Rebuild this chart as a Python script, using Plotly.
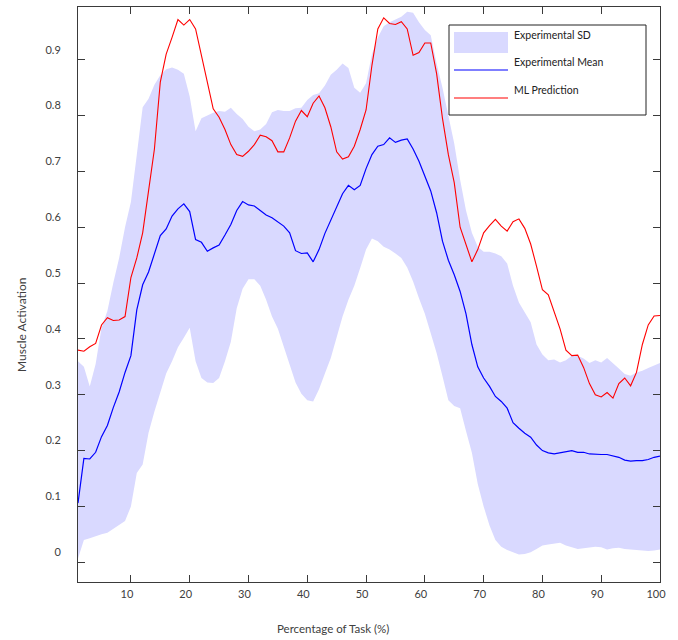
import plotly.graph_objects as go

# ---------------- data ----------------
pct = list(range(1, 101))

ml_prediction = [
    0.380, 0.378, 0.386, 0.392, 0.425, 0.438, 0.433, 0.434, 0.440, 0.510,
    0.545, 0.590, 0.665, 0.740, 0.860, 0.910, 0.940, 0.972, 0.962, 0.972,
    0.955, 0.905, 0.860, 0.812, 0.797, 0.775, 0.748, 0.730, 0.727, 0.736,
    0.748, 0.765, 0.762, 0.755, 0.735, 0.735, 0.760, 0.790, 0.809, 0.798,
    0.822, 0.835, 0.814, 0.780, 0.735, 0.722, 0.726, 0.745, 0.775, 0.810,
    0.890, 0.955, 0.975, 0.965, 0.963, 0.968, 0.955, 0.908, 0.913, 0.930,
    0.930, 0.875, 0.795, 0.730, 0.680, 0.600, 0.570, 0.538, 0.560, 0.590,
    0.603, 0.614, 0.602, 0.593, 0.610, 0.615, 0.598, 0.570, 0.530, 0.488,
    0.479, 0.450, 0.418, 0.380, 0.370, 0.371, 0.349, 0.320, 0.300, 0.296,
    0.304, 0.294, 0.320, 0.330, 0.316, 0.340, 0.390, 0.425, 0.441, 0.442,
]

exp_mean = [
    0.106, 0.186, 0.185, 0.197, 0.225, 0.245, 0.277, 0.305, 0.340, 0.370,
    0.452, 0.497, 0.520, 0.553, 0.585, 0.597, 0.620, 0.633, 0.642, 0.628,
    0.578, 0.573, 0.557, 0.563, 0.568, 0.586, 0.605, 0.630, 0.646, 0.640,
    0.638, 0.630, 0.622, 0.617, 0.609, 0.602, 0.590, 0.558, 0.553, 0.554,
    0.538, 0.560, 0.589, 0.612, 0.635, 0.660, 0.675, 0.667, 0.675, 0.705,
    0.730, 0.745, 0.748, 0.760, 0.752, 0.756, 0.758, 0.740, 0.718, 0.690,
    0.665, 0.626, 0.575, 0.541, 0.515, 0.485, 0.445, 0.390, 0.350, 0.330,
    0.315, 0.297, 0.288, 0.276, 0.250, 0.240, 0.231, 0.224, 0.210, 0.200,
    0.196, 0.194, 0.196, 0.198, 0.200, 0.197, 0.197, 0.194, 0.193, 0.193,
    0.193, 0.191, 0.188, 0.183, 0.181, 0.182, 0.182, 0.184, 0.188, 0.190,
]

sd_upper = [
    0.360, 0.350, 0.315, 0.355, 0.420, 0.450, 0.500, 0.545, 0.600, 0.645,
    0.730, 0.815, 0.830, 0.855, 0.872, 0.883, 0.886, 0.882, 0.875, 0.834,
    0.772, 0.795, 0.800, 0.805, 0.808, 0.807, 0.814, 0.803, 0.794, 0.780,
    0.772, 0.775, 0.785, 0.806, 0.810, 0.808, 0.808, 0.813, 0.814, 0.828,
    0.837, 0.840, 0.854, 0.873, 0.882, 0.893, 0.885, 0.850, 0.841, 0.858,
    0.910, 0.940, 0.960, 0.967, 0.972, 0.977, 0.986, 0.984, 0.967, 0.953,
    0.944, 0.893, 0.850, 0.800, 0.750, 0.685, 0.630, 0.590, 0.565, 0.556,
    0.556, 0.553, 0.548, 0.535, 0.495, 0.465, 0.447, 0.430, 0.390, 0.372,
    0.362, 0.363, 0.358, 0.362, 0.370, 0.370, 0.365, 0.357, 0.362, 0.358,
    0.366, 0.357, 0.347, 0.337, 0.334, 0.340, 0.343, 0.348, 0.352, 0.357,
]

sd_lower = [
    0.007, 0.040, 0.043, 0.047, 0.050, 0.053, 0.060, 0.066, 0.074, 0.100,
    0.160, 0.175, 0.232, 0.270, 0.305, 0.338, 0.360, 0.385, 0.402, 0.420,
    0.360, 0.330, 0.322, 0.321, 0.330, 0.360, 0.395, 0.455, 0.490, 0.507,
    0.507, 0.495, 0.470, 0.440, 0.418, 0.385, 0.352, 0.322, 0.302, 0.290,
    0.288, 0.310, 0.338, 0.366, 0.403, 0.440, 0.470, 0.495, 0.527, 0.560,
    0.580, 0.575, 0.565, 0.560, 0.553, 0.545, 0.528, 0.503, 0.473, 0.445,
    0.410, 0.375, 0.333, 0.290, 0.280, 0.276, 0.235, 0.196, 0.140, 0.100,
    0.066, 0.040, 0.028, 0.022, 0.018, 0.014, 0.015, 0.018, 0.024, 0.030,
    0.032, 0.034, 0.035, 0.030, 0.027, 0.024, 0.025, 0.026, 0.028, 0.027,
    0.023, 0.025, 0.026, 0.024, 0.023, 0.021, 0.021, 0.020, 0.021, 0.023,
]

x_ticks = [10, 20, 30, 40, 50, 60, 70, 80, 90, 100]
y_ticks = [0, 0.1, 0.2, 0.3, 0.4, 0.5, 0.6, 0.7, 0.8, 0.9]
legend_labels = ["Experimental SD", "Experimental Mean", "ML Prediction"]

# ---------------- styling ----------------
W, H = 678, 640
ML, MR, MT, MB = 78, 18, 7, 58
PW, PH = W - ML - MR, H - MT - MB
SD_FILL = "rgb(217,217,255)"
BLUE = "rgb(0,0,255)"
RED = "rgb(255,0,0)"
AXC = "#3a3a3a"
TXT = "#404040"
FONT = "Lato"


def px(xp):
    return (xp - ML) / PW


def py(yp):
    return (H - MB - yp) / PH


fig = go.Figure()
fig.add_trace(go.Scatter(x=pct, y=sd_lower, mode="lines", line=dict(width=0, color=SD_FILL),
                         showlegend=False, hoverinfo="skip", name="SD lower"))
fig.add_trace(go.Scatter(x=pct, y=sd_upper, mode="lines", line=dict(width=0, color=SD_FILL),
                         fill="tonexty", fillcolor=SD_FILL, showlegend=False,
                         name=legend_labels[0]))
fig.add_trace(go.Scatter(x=pct, y=exp_mean, mode="lines", line=dict(width=1.2, color=BLUE),
                         showlegend=False, name=legend_labels[1]))
fig.add_trace(go.Scatter(x=pct, y=ml_prediction, mode="lines", line=dict(width=1.1, color=RED),
                         showlegend=False, name=legend_labels[2]))

axis_common = dict(
    showline=True, linecolor=AXC, linewidth=1, mirror="ticks",
    ticks="inside", ticklen=7, tickwidth=1, tickcolor=AXC,
    showgrid=False, zeroline=False,
    tickfont=dict(family=FONT, size=11, color=TXT),
)

fig.update_layout(
    width=W, height=H,
    margin=dict(l=ML, r=MR, t=MT, b=MB, pad=0),
    paper_bgcolor="white", plot_bgcolor="white",
    showlegend=False,
    xaxis=dict(range=[1, 100], tickvals=x_ticks, ticktext=[str(v) for v in x_ticks],
               ticklabelshift=-4, ticklabelstandoff=2, **axis_common),
    yaxis=dict(range=[-0.0353, 0.9944], tickvals=y_ticks,
               ticktext=["0" if v == 0 else f"{v:.1f}" for v in y_ticks],
               ticklabelshift=-10, ticklabelstandoff=14, **axis_common),
)

# axis titles
fig.add_annotation(text="Muscle Activation", xref="paper", yref="paper",
                   x=px(21), y=py(325), textangle=-90, showarrow=False,
                   xanchor="center", yanchor="middle",
                   font=dict(family=FONT, size=12, color=TXT))
fig.add_annotation(text="Percentage of Task (%)", xref="paper", yref="paper",
                   x=px(333), y=py(628), showarrow=False,
                   xanchor="center", yanchor="middle",
                   font=dict(family=FONT, size=11.5, color=TXT))

# legend box (drawn manually to match the reference layout)
fig.add_shape(type="rect", xref="paper", yref="paper",
              x0=px(449), x1=px(646), y0=py(115), y1=py(25),
              line=dict(color="#222222", width=1), fillcolor="white", layer="above")
fig.add_shape(type="rect", xref="paper", yref="paper",
              x0=px(454), x1=px(508), y0=py(53), y1=py(32),
              line=dict(width=0), fillcolor=SD_FILL, layer="above")
fig.add_shape(type="line", xref="paper", yref="paper",
              x0=px(454), x1=px(508), y0=py(70), y1=py(70),
              line=dict(color=BLUE, width=1.2), layer="above")
fig.add_shape(type="line", xref="paper", yref="paper",
              x0=px(454), x1=px(508), y0=py(98), y1=py(98),
              line=dict(color=RED, width=1.1), layer="above")
for lab, yc in zip(legend_labels, [35, 62, 90]):
    fig.add_annotation(text=lab, xref="paper", yref="paper", x=px(512), y=py(yc),
                       showarrow=False, xanchor="left", yanchor="middle",
                       font=dict(family=FONT, size=10.5, color="#222222"))

fig.write_html("out.html")
